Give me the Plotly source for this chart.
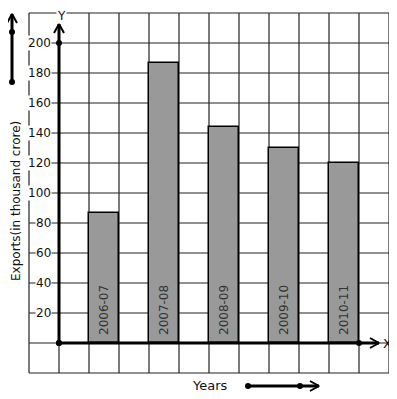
import plotly.graph_objects as go

# ---- data ----
years = ["2006-07", "2007-08", "2008-09", "2009-10", "2010-11"]
exports = [87, 187, 144, 130, 120]
bar_pos = [1.5, 3.5, 5.5, 7.5, 9.5]
y_ticks = [20, 40, 60, 80, 100, 120, 140, 160, 180, 200]

# ---- geometry (pixel mapping: 30 px per x unit, 1.5 px per y unit) ----
W, H = 397, 399
OFF = 8  # page body margin
X0PX, Y0PX = 59, 343
XPU, YPU = 30.0, 1.5
xr = [(OFF - X0PX) / XPU, (W - X0PX) / XPU]
yr = [-(H - Y0PX) / YPU, (Y0PX - OFF) / YPU]

def px_x(p):
    return (p - X0PX) / XPU

def px_y(p):
    return (Y0PX - p) / YPU

GRID_X = list(range(-1, 12))
GRID_Y = list(range(-20, 221, 20))
gcol = "#222222"

shapes = []
for gx in GRID_X:
    shapes.append(dict(type="line", x0=gx, x1=gx, y0=GRID_Y[0], y1=GRID_Y[-1],
                       line=dict(color=gcol, width=1.2), layer="below"))
for gy in GRID_Y:
    shapes.append(dict(type="line", x0=GRID_X[0], x1=GRID_X[-1], y0=gy, y1=gy,
                       line=dict(color=gcol, width=1.2), layer="below"))

fig = go.Figure()

fig.add_trace(go.Bar(
    x=bar_pos, y=exports, width=1,
    marker=dict(color="#999999", line=dict(color="#000000", width=1.5)),
    cliponaxis=False, showlegend=False, hoverinfo="skip",
))

def arrow(xa, ya, xb, yb, head_dir, dots):
    fig.add_trace(go.Scatter(x=[xa, xb], y=[ya, yb], mode="lines",
                             line=dict(color="black", width=3),
                             showlegend=False, hoverinfo="skip"))
    if head_dir == "up":
        hx = [xb - 5 / XPU, xb, xb + 5 / XPU]
        hy = [yb - 9 / YPU, yb, yb - 9 / YPU]
    else:
        hx = [xb - 9 / XPU, xb, xb - 9 / XPU]
        hy = [yb + 5 / YPU, yb, yb - 5 / YPU]
    fig.add_trace(go.Scatter(x=hx, y=hy, mode="lines",
                             line=dict(color="black", width=2),
                             showlegend=False, hoverinfo="skip"))
    fig.add_trace(go.Scatter(x=[d[0] for d in dots], y=[d[1] for d in dots],
                             mode="markers", marker=dict(color="black", size=6),
                             showlegend=False, hoverinfo="skip"))

# Y axis
arrow(0, 0, 0, px_y(24), "up", [(0, 0), (0, 200)])
# X axis
arrow(0, 0, px_x(379), 0, "right", [(0, 0), (10, 0)])
# decorative left arrow
lx = px_x(12)
arrow(lx, px_y(82), lx, px_y(14), "up", [(lx, px_y(32)), (lx, px_y(82))])
# decorative bottom arrow
by = px_y(386)
arrow(px_x(248), by, px_x(319), by, "right", [(px_x(248), by), (px_x(300), by)])

font = dict(family="DejaVu Sans", size=12, color="#111111")
ann = []
for t in y_ticks:
    ann.append(dict(x=px_x(52), y=t, text=str(t), showarrow=False, xanchor="right",
                    yanchor="middle", bgcolor="white", borderpad=0, font=font))
for xp, lab in zip(bar_pos, years):
    ann.append(dict(x=xp, y=0, text=lab, showarrow=False, textangle=-90,
                    xanchor="center", yanchor="bottom", yshift=6,
                    font=dict(family="DejaVu Sans", size=12, color="#333333")))
ann.append(dict(x=px_x(61), y=px_y(OFF), text="Y", showarrow=False, bgcolor="white",
                borderpad=0, yanchor="top", xanchor="center",
                font=dict(family="DejaVu Sans", size=12, color="#111111")))
ann.append(dict(x=px_x(393), y=0, text="X", showarrow=False, xanchor="right",
                yanchor="middle", borderpad=0,
                font=dict(family="DejaVu Sans", size=13, color="#111111")))
ann.append(dict(x=px_x(210), y=px_y(385), text="Years", showarrow=False,
                font=dict(family="DejaVu Sans", size=13, color="#111111")))
ann.append(dict(x=px_x(OFF), y=px_y(201), text="Exports(in thousand crore)", textangle=-90,
                xanchor="left", yanchor="middle", borderpad=0, showarrow=False,
                font=dict(family="DejaVu Sans", size=12, color="#111111")))

fig.update_layout(
    width=W - OFF, height=H - OFF, margin=dict(l=0, r=0, t=0, b=0),
    paper_bgcolor="white", plot_bgcolor="white",
    xaxis=dict(range=xr, visible=False, fixedrange=True),
    yaxis=dict(range=yr, visible=False, fixedrange=True),
    shapes=shapes, annotations=ann, bargap=0,
)

fig.write_html("out.html")
